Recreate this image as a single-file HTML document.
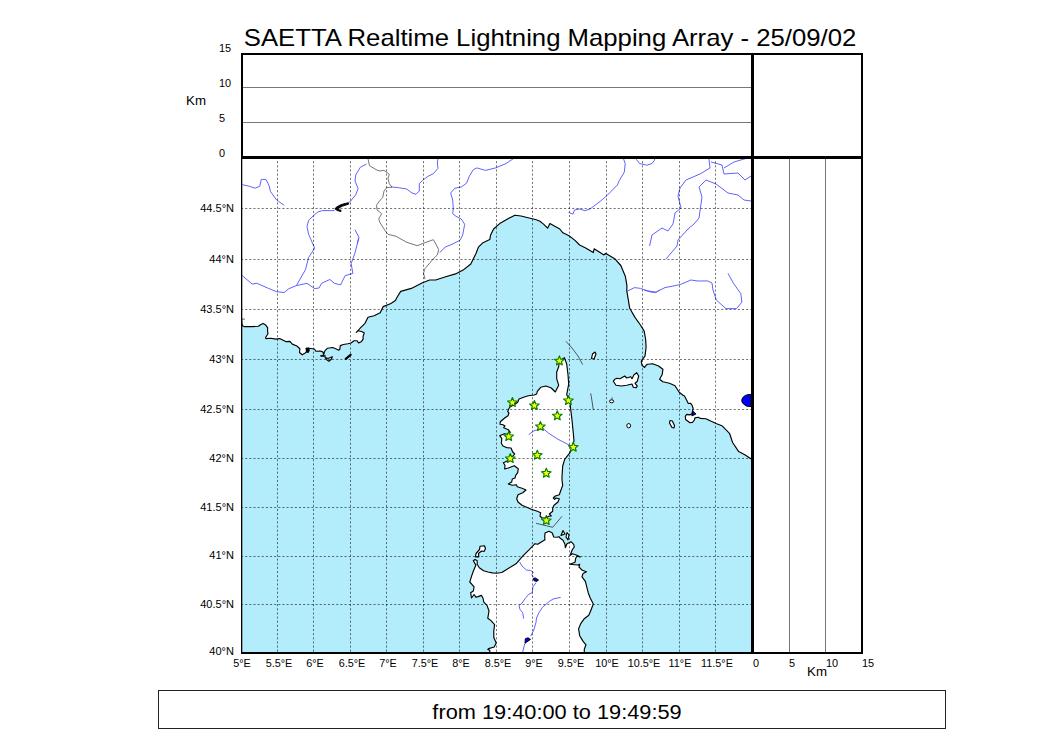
<!DOCTYPE html>
<html><head><meta charset="utf-8"><style>
html,body{margin:0;padding:0;background:#fff;}
body{width:1050px;height:750px;position:relative;overflow:hidden;font-family:"Liberation Sans",sans-serif;color:#000;}
.t{position:absolute;white-space:nowrap;line-height:1;}
</style></head><body>
<svg width="1050" height="750" viewBox="0 0 1050 750" style="position:absolute;left:0;top:0"><defs><clipPath id="mc"><rect x="241" y="157" width="511" height="495"/></clipPath></defs><g clip-path="url(#mc)"><polygon points="241.0,318.6 241.5,318.6 241.9,323.1 242.4,325.8 244.0,326.6 252.0,326.6 258.4,326.3 260.5,324.7 263.2,323.4 265.9,325.3 267.7,327.9 267.5,330.6 268.0,333.8 265.6,337.5 265.9,338.6 270.7,338.3 276.0,339.1 279.6,338.6 285.7,341.6 290.0,341.4 292.3,344.1 296.9,346.0 299.9,348.7 299.5,352.5 302.2,354.8 305.2,352.9 308.3,350.6 306.4,348.3 309.0,348.3 314.4,349.0 315.9,351.3 320.5,351.0 323.1,352.1 323.5,355.1 325.0,350.6 327.3,348.3 332.7,347.5 335.7,348.7 338.8,350.2 339.9,349.0 340.3,345.6 343.3,344.5 347.9,343.7 351.0,343.0 354.0,340.7 357.0,340.7 358.6,343.0 361.6,341.4 363.1,339.1 363.1,336.1 364.3,333.0 361.6,331.5 357.8,330.8 356.3,332.3 358.6,330.0 360.4,327.9 365.0,323.3 368.0,317.2 374.1,315.7 380.2,312.7 383.2,306.6 390.9,303.5 395.4,300.5 396.9,297.5 400.7,291.4 411.3,288.4 422.0,283.0 429.6,280.0 435.7,280.0 444.9,277.0 455.5,273.9 463.1,270.1 470.8,264.0 473.0,259.4 476.1,253.3 478.4,247.2 483.0,242.7 489.8,239.6 490.6,235.0 493.6,229.0 499.7,223.6 508.9,218.3 514.9,215.2 521.0,216.0 527.1,217.5 536.3,219.8 540.0,221.3 543.8,224.4 547.6,228.2 549.9,223.6 559.8,229.0 562.9,232.8 569.0,235.8 575.0,240.4 579.6,245.0 585.7,248.0 593.3,252.6 594.1,248.8 604.0,254.9 605.5,253.3 614.7,258.7 620.8,265.5 625.3,276.2 626.9,285.3 626.8,291.0 628.2,299.1 629.7,308.3 635.0,317.4 640.4,325.0 644.2,331.1 645.7,340.0 646.1,347.3 645.0,356.1 642.4,359.4 641.3,361.3 642.0,365.3 644.6,367.5 646.1,365.3 647.5,364.2 652.7,363.8 658.5,366.0 662.9,369.3 662.2,374.5 659.6,379.2 662.9,381.8 669.5,383.3 675.0,385.8 679.2,392.2 683.0,395.2 684.5,396.0 686.7,400.3 688.3,403.5 690.4,403.2 692.0,405.1 693.1,408.3 692.5,411.5 691.7,414.1 689.3,414.9 686.7,414.4 685.3,416.3 685.6,419.5 689.9,422.7 692.5,422.4 694.4,420.0 694.9,417.9 698.4,417.3 700.0,418.4 705.9,418.7 710.7,421.1 716.0,423.5 721.9,425.7 729.5,433.3 732.6,442.5 738.7,451.6 744.8,454.7 752.0,459.5 752.0,652.0 241.0,652.0" fill="#b3edfb" stroke="none"/><polyline points="241.5,318.6 241.9,323.1 242.4,325.8 244.0,326.6 252.0,326.6 258.4,326.3 260.5,324.7 263.2,323.4 265.9,325.3 267.7,327.9 267.5,330.6 268.0,333.8 265.6,337.5 265.9,338.6 270.7,338.3 276.0,339.1 279.6,338.6 285.7,341.6 290.0,341.4 292.3,344.1 296.9,346.0 299.9,348.7 299.5,352.5 302.2,354.8 305.2,352.9 308.3,350.6 306.4,348.3 309.0,348.3 314.4,349.0 315.9,351.3 320.5,351.0 323.1,352.1 323.5,355.1 325.0,350.6 327.3,348.3 332.7,347.5 335.7,348.7 338.8,350.2 339.9,349.0 340.3,345.6 343.3,344.5 347.9,343.7 351.0,343.0 354.0,340.7 357.0,340.7 358.6,343.0 361.6,341.4 363.1,339.1 363.1,336.1 364.3,333.0 361.6,331.5 357.8,330.8 356.3,332.3 358.6,330.0 360.4,327.9 365.0,323.3 368.0,317.2 374.1,315.7 380.2,312.7 383.2,306.6 390.9,303.5 395.4,300.5 396.9,297.5 400.7,291.4 411.3,288.4 422.0,283.0 429.6,280.0 435.7,280.0 444.9,277.0 455.5,273.9 463.1,270.1 470.8,264.0 473.0,259.4 476.1,253.3 478.4,247.2 483.0,242.7 489.8,239.6 490.6,235.0 493.6,229.0 499.7,223.6 508.9,218.3 514.9,215.2 521.0,216.0 527.1,217.5 536.3,219.8 540.0,221.3 543.8,224.4 547.6,228.2 549.9,223.6 559.8,229.0 562.9,232.8 569.0,235.8 575.0,240.4 579.6,245.0 585.7,248.0 593.3,252.6 594.1,248.8 604.0,254.9 605.5,253.3 614.7,258.7 620.8,265.5 625.3,276.2 626.9,285.3 626.8,291.0 628.2,299.1 629.7,308.3 635.0,317.4 640.4,325.0 644.2,331.1 645.7,340.0 646.1,347.3 645.0,356.1 642.4,359.4 641.3,361.3 642.0,365.3 644.6,367.5 646.1,365.3 647.5,364.2 652.7,363.8 658.5,366.0 662.9,369.3 662.2,374.5 659.6,379.2 662.9,381.8 669.5,383.3 675.0,385.8 679.2,392.2 683.0,395.2 684.5,396.0 686.7,400.3 688.3,403.5 690.4,403.2 692.0,405.1 693.1,408.3 692.5,411.5 691.7,414.1 689.3,414.9 686.7,414.4 685.3,416.3 685.6,419.5 689.9,422.7 692.5,422.4 694.4,420.0 694.9,417.9 698.4,417.3 700.0,418.4 705.9,418.7 710.7,421.1 716.0,423.5 721.9,425.7 729.5,433.3 732.6,442.5 738.7,451.6 744.8,454.7 752.0,459.5" fill="none" stroke="#000" stroke-width="1.15" stroke-linejoin="round"/><polygon points="489.8,652.6 489.8,650.2 487.8,649.4 488.6,648.6 494.2,647.0 496.2,643.0 493.8,637.4 493.8,631.0 494.6,624.6 491.0,620.6 487.8,618.2 489.0,611.0 487.0,605.4 483.8,602.2 483.0,598.2 481.4,595.4 478.2,596.6 475.9,597.1 474.1,594.5 471.5,598.0 470.7,592.8 473.3,591.1 474.1,586.8 469.8,582.0 471.5,576.4 473.3,571.2 475.9,565.1 473.3,560.8 475.0,559.5 477.2,560.8 477.2,564.2 479.3,567.7 483.6,570.7 488.0,572.0 492.3,572.9 496.6,573.3 501.8,572.5 506.6,569.4 516.0,563.8 523.4,555.4 529.0,549.9 535.0,543.7 537.7,544.3 541.7,541.7 545.0,539.7 544.7,537.0 545.0,533.0 549.0,531.3 552.3,533.0 553.7,537.0 557.0,537.3 559.0,536.7 560.3,538.3 563.0,540.3 565.0,544.3 565.3,547.7 567.0,543.7 571.0,541.7 573.7,544.3 574.3,547.0 572.3,549.7 571.0,553.0 570.3,555.3 572.3,553.7 576.3,555.0 580.3,557.0 577.0,556.3 575.7,558.3 575.0,562.3 571.0,563.7 569.7,564.3 577.7,565.0 579.7,564.3 579.0,567.0 582.3,570.3 586.5,571.7 583.1,573.4 582.0,576.8 585.4,581.3 586.5,585.9 588.2,592.7 589.9,597.2 593.3,604.0 591.1,609.7 588.8,615.3 584.3,618.7 580.9,623.3 578.6,628.9 579.7,635.7 583.1,641.4 586.0,644.8 584.3,649.3 584.3,652.7" fill="#fff" stroke="none"/><polyline points="489.8,652.6 489.8,650.2 487.8,649.4 488.6,648.6 494.2,647.0 496.2,643.0 493.8,637.4 493.8,631.0 494.6,624.6 491.0,620.6 487.8,618.2 489.0,611.0 487.0,605.4 483.8,602.2 483.0,598.2 481.4,595.4 478.2,596.6 475.9,597.1 474.1,594.5 471.5,598.0 470.7,592.8 473.3,591.1 474.1,586.8 469.8,582.0 471.5,576.4 473.3,571.2 475.9,565.1 473.3,560.8 475.0,559.5 477.2,560.8 477.2,564.2 479.3,567.7 483.6,570.7 488.0,572.0 492.3,572.9 496.6,573.3 501.8,572.5 506.6,569.4 516.0,563.8 523.4,555.4 529.0,549.9 535.0,543.7 537.7,544.3 541.7,541.7 545.0,539.7 544.7,537.0 545.0,533.0 549.0,531.3 552.3,533.0 553.7,537.0 557.0,537.3 559.0,536.7 560.3,538.3 563.0,540.3 565.0,544.3 565.3,547.7 567.0,543.7 571.0,541.7 573.7,544.3 574.3,547.0 572.3,549.7 571.0,553.0 570.3,555.3 572.3,553.7 576.3,555.0 580.3,557.0 577.0,556.3 575.7,558.3 575.0,562.3 571.0,563.7 569.7,564.3 577.7,565.0 579.7,564.3 579.0,567.0 582.3,570.3 586.5,571.7 583.1,573.4 582.0,576.8 585.4,581.3 586.5,585.9 588.2,592.7 589.9,597.2 593.3,604.0 591.1,609.7 588.8,615.3 584.3,618.7 580.9,623.3 578.6,628.9 579.7,635.7 583.1,641.4 586.0,644.8 584.3,649.3 584.3,652.7" fill="none" stroke="#000" stroke-width="1.15" stroke-linejoin="round"/><polygon points="564.4,357.6 566.7,364.0 568.0,374.7 568.7,384.0 566.7,394.7 570.0,401.3 570.7,409.3 572.0,420.0 573.3,433.3 574.0,440.7 570.0,452.7 564.7,459.3 562.7,466.0 562.0,476.7 562.0,480.0 562.7,485.3 560.7,490.7 559.3,494.7 555.3,496.0 553.3,498.0 554.7,499.3 556.0,498.0 559.3,498.7 558.0,502.0 554.0,505.3 552.7,508.0 552.7,511.3 549.3,514.0 551.3,516.0 548.7,516.3 546.3,517.8 542.0,518.0 540.0,516.0 540.7,512.7 537.3,511.3 531.3,509.3 526.7,507.3 522.0,505.3 518.0,502.0 516.7,498.7 518.0,494.7 522.7,492.7 526.0,490.0 522.0,488.3 517.3,486.7 516.3,484.7 512.3,485.3 508.3,484.0 511.7,482.0 512.3,479.0 515.0,478.0 515.7,475.3 517.7,472.7 518.3,468.7 514.3,465.7 508.3,468.0 504.7,469.0 505.0,465.3 503.3,462.7 506.7,461.3 510.3,458.0 513.0,456.0 514.7,454.0 512.7,452.0 511.0,448.0 507.0,447.7 503.0,446.0 501.3,443.3 501.7,440.0 501.7,438.3 499.7,435.7 504.3,433.7 508.3,434.3 510.3,432.3 508.3,429.7 503.7,427.7 505.0,426.0 503.0,424.7 500.0,424.3 500.3,421.7 505.0,417.7 508.0,415.7 509.0,413.0 507.7,411.7 508.7,409.0 510.3,406.7 515.0,404.3 517.7,402.3 519.0,399.0 524.3,397.0 528.3,395.7 534.3,395.0 536.7,394.0 537.3,391.3 540.7,387.3 546.0,386.0 551.3,388.0 555.3,392.0 558.7,385.3 556.7,378.7 556.7,372.0 558.7,366.7 559.3,361.3" fill="#fff" stroke="#000" stroke-width="1.15" stroke-linejoin="round"/><polygon points="613.3,381.3 614.7,379.3 617.0,378.3 620.0,378.7 624.7,376.0 626.7,378.0 630.7,376.7 632.0,378.7 634.0,374.7 636.7,372.7 638.7,376.0 637.3,381.3 635.1,383.3 637.3,386.2 636.0,387.8 633.3,387.3 632.0,384.0 626.7,385.3 621.3,386.0 616.0,385.3" fill="#fff" stroke="#000" stroke-width="1.15" stroke-linejoin="round"/><polygon points="480.0,546.3 484.5,545.8 485.5,548.7 484.0,551.5 481.5,551.0 478.5,553.5 478.8,556.8 475.5,556.8 476.0,553.5 479.5,549.5" fill="#fff" stroke="#000" stroke-width="1.15" stroke-linejoin="round"/><polygon points="563.0,530.5 565.0,534.0 561.0,535.5" fill="#fff" stroke="#000" stroke-width="1.15" stroke-linejoin="round"/><polygon points="567.0,532.5 569.0,535.0 568.0,540.0 566.0,537.0" fill="#fff" stroke="#000" stroke-width="1.15" stroke-linejoin="round"/><polygon points="670.0,420.5 672.3,421.0 674.5,425.5 674.0,428.0 672.0,427.5 669.5,423.0" fill="#fff" stroke="#000" stroke-width="1.15" stroke-linejoin="round"/><polygon points="325.0,357.5 328.0,358.5 330.5,357.5 332.3,356.7 331.5,359.0 329.0,361.2 327.0,360.0" fill="#fff" stroke="#000" stroke-width="1.15" stroke-linejoin="round"/><polygon points="591.5,358.5 592.5,354.0 595.0,352.0 596.0,354.0 594.0,359.0" fill="#fff" stroke="#000" stroke-width="1.15" stroke-linejoin="round"/><ellipse cx="611.6" cy="401.3" rx="2.1" ry="1.5" fill="#fff" stroke="#000" stroke-width="1"/><ellipse cx="628.7" cy="425.7" rx="1.9" ry="2.2" fill="#fff" stroke="#000" stroke-width="1"/><polyline points="242.3,184.7 249.1,186.2 255.2,188.2 259.8,186.2 261.3,179.4 265.9,179.4 269.0,185.5 270.5,191.6 276.6,200.0 284.2,205.3" fill="none" stroke="#4f50ff" stroke-width="0.9" stroke-linejoin="round"/><polyline points="366.5,164.1 360.4,167.2 355.8,174.8 355.0,180.9 358.1,188.5 355.8,194.6 349.7,202.2 347.5,203.3" fill="none" stroke="#4f50ff" stroke-width="0.9" stroke-linejoin="round"/><polyline points="334.5,210.6 322.3,210.6 317.7,212.1 313.1,216.0 308.6,220.5 307.0,226.6 308.6,234.2 310.1,237.6 314.7,248.3 308.6,257.4 305.5,269.6 296.4,285.6" fill="none" stroke="#4f50ff" stroke-width="0.9" stroke-linejoin="round"/><polyline points="296.4,285.6 288.8,288.7 284.2,292.5 276.6,291.7 267.4,287.9 256.8,283.3 252.2,284.1 242.3,275.7" fill="none" stroke="#4f50ff" stroke-width="0.9" stroke-linejoin="round"/><polyline points="296.4,285.6 307.0,283.3 314.7,288.7 319.2,287.9 321.5,283.3 329.9,279.5 334.5,283.3 340.6,284.9 345.1,275.7 352.8,273.4 351.2,263.5 355.0,252.9 358.9,237.6 357.3,243.4" fill="none" stroke="#4f50ff" stroke-width="0.9" stroke-linejoin="round"/><polyline points="355.0,229.7 358.9,237.3" fill="none" stroke="#4f50ff" stroke-width="0.9" stroke-linejoin="round"/><polyline points="438.5,157.0 438.0,159.0 437.3,163.0 438.0,168.3 433.3,173.7 428.0,176.3 422.7,180.3 419.3,183.7 419.3,191.0 416.0,194.3 412.0,193.0 406.7,189.0 398.7,187.7 392.0,187.0 390.9,187.8" fill="none" stroke="#4f50ff" stroke-width="0.9" stroke-linejoin="round"/><polyline points="515.0,157.0 513.7,158.4 506.0,163.6 495.7,167.9 485.4,170.4 476.9,167.9 473.3,169.7 469.3,176.3 466.7,183.0 461.3,187.0 454.7,188.3 450.7,193.0 452.7,200.3 453.3,208.3 452.7,213.7 456.0,216.3 461.3,219.0 464.7,224.3 462.7,235.0 460.0,240.3 452.0,244.3 445.3,247.0 440.0,252.3 440.3,251.8" fill="none" stroke="#4f50ff" stroke-width="0.9" stroke-linejoin="round"/><polyline points="623.0,157.0 623.4,158.4 625.2,163.6 624.3,172.1 619.2,180.7 617.4,185.0 607.2,195.3 600.3,201.3 590.0,209.0 584.9,210.7 579.7,209.0 574.6,209.9 572.9,214.1 568.6,212.4" fill="none" stroke="#4f50ff" stroke-width="0.9" stroke-linejoin="round"/><polyline points="709.0,157.0 709.0,159.0 710.0,168.0 700.0,174.0 686.0,180.0 680.0,188.0 678.0,196.0 681.0,208.0 675.0,213.0 673.0,224.0 668.0,231.0 662.0,228.0 652.0,235.0 649.6,246.0" fill="none" stroke="#4f50ff" stroke-width="0.9" stroke-linejoin="round"/><polyline points="711.0,162.0 722.0,165.0 724.0,174.0 738.0,173.0 745.0,180.0 751.0,176.0" fill="none" stroke="#4f50ff" stroke-width="0.9" stroke-linejoin="round"/><polyline points="724.0,168.0 734.0,162.0 744.0,159.0 751.0,157.5" fill="none" stroke="#4f50ff" stroke-width="0.9" stroke-linejoin="round"/><polyline points="706.0,180.0 699.0,187.0 702.0,197.0 699.0,218.0 694.0,224.0 688.0,229.0 678.0,240.0 677.0,246.0 666.0,259.0" fill="none" stroke="#4f50ff" stroke-width="0.9" stroke-linejoin="round"/><polyline points="706.0,180.0 716.0,184.0 728.0,193.0 738.0,195.0 744.0,200.0 751.0,201.0" fill="none" stroke="#4f50ff" stroke-width="0.9" stroke-linejoin="round"/><polyline points="636.0,157.0 636.3,159.3 639.5,163.5 646.9,165.2 652.0,163.5 654.4,160.3 655.0,157.0" fill="none" stroke="#4f50ff" stroke-width="0.9" stroke-linejoin="round"/><polyline points="626.9,291.4 634.5,287.6 640.6,288.4 646.7,290.7 655.8,292.2 665.0,287.6 680.2,284.6 690.9,280.0 698.0,281.0 707.7,280.9 712.0,283.0 713.0,290.0 716.3,300.0 725.9,308.6 736.5,308.6 741.9,302.2 740.8,293.7 733.3,283.0 728.0,273.4" fill="none" stroke="#4f50ff" stroke-width="0.9" stroke-linejoin="round"/><polyline points="644.2,290.0 651.8,292.3 656.4,292.3 659.4,290.0" fill="none" stroke="#4f50ff" stroke-width="0.9" stroke-linejoin="round"/><polyline points="528.7,434.7 534.0,430.7 543.3,428.7 548.7,433.3 558.0,439.3 573.0,447.0" fill="none" stroke="#4f50ff" stroke-width="0.9" stroke-linejoin="round"/><polyline points="519.7,562.0 522.0,566.0 526.4,570.0 530.7,570.5 533.3,572.1 531.7,574.8 533.9,577.5" fill="none" stroke="#4f50ff" stroke-width="0.9" stroke-linejoin="round"/><polyline points="536.0,582.8 532.8,587.1 532.3,592.4 528.5,594.5 525.3,598.3 522.1,603.1 519.0,605.5 520.0,609.5 522.7,612.7 523.7,618.6" fill="none" stroke="#4f50ff" stroke-width="0.9" stroke-linejoin="round"/><polyline points="560.7,597.4 553.0,599.0 549.9,601.0 546.1,604.2 542.4,607.4 539.2,612.2 536.5,618.0 536.0,622.3 533.9,629.8 530.7,636.2" fill="none" stroke="#4f50ff" stroke-width="0.9" stroke-linejoin="round"/><polyline points="524.8,643.6 523.2,650.0 522.5,653.0" fill="none" stroke="#4f50ff" stroke-width="0.9" stroke-linejoin="round"/><polyline points="368.0,157.0 368.0,158.8 369.5,165.7 377.1,170.2 380.0,171.0 384.0,170.3 389.3,174.3 388.0,178.3 389.3,183.7 392.0,187.0 386.7,187.7 384.0,191.0 382.7,197.7 380.0,200.3 376.4,205.3 377.1,209.9 381.7,213.7 378.7,219.0 380.2,223.0 385.3,231.0 388.0,234.3 396.0,236.3 406.7,242.3 417.3,245.7 424.0,243.0 433.3,239.7 435.3,243.0 438.7,249.7 437.3,255.0 434.2,257.9 425.0,268.6 423.5,273.1 425.0,279.2" fill="none" stroke="#666666" stroke-width="0.9" stroke-linejoin="round"/><polyline points="612.0,397.3 612.0,399.8" fill="none" stroke="#333" stroke-width="0.8"/><polyline points="241.5,319.1 244.8,319.1" fill="none" stroke="#333" stroke-width="0.8"/><polyline points="566.0,341.3 572.0,348.0 578.0,356.0 582.7,364.7" fill="none" stroke="#333" stroke-width="0.8"/><polyline points="590.7,393.3 592.0,401.0 593.3,410.0" fill="none" stroke="#333" stroke-width="0.8"/><polyline points="536.0,523.3 552.7,527.3 562.0,516.3" fill="none" stroke="#333" stroke-width="0.8"/><polygon points="305.5,348 309,347.6 309.8,350.5 308.5,353 306,352.5" fill="#000"/><polygon points="320.3,355.1 325.6,355.2 325.8,356.8 320.5,356.8" fill="#000"/><line x1="345.8" y1="358.8" x2="350.6" y2="354.8" stroke="#000" stroke-width="2.2" stroke-linecap="round"/><path d="M341,211.6 Q336.5,210.8 334.8,208.8 Q338,204.6 348.2,202.8 L348.6,204.2 Q341,206 337.6,209 Q339,210 341,210.2 Z" fill="#000010" stroke="#000" stroke-width="0.9" stroke-linejoin="round"/><polygon points="693.1,411.3 695.9,414.1 691.8,415.9" fill="#0000ff" stroke="#000" stroke-width="1"/><polygon points="533.3,578.5 535.5,578 538.5,580.1 536.5,581.5 533.9,580.5" fill="#0000ff" stroke="#000" stroke-width="1" stroke-linejoin="round"/><polygon points="525.3,638.8 528,637.8 530.5,639.4 526.4,642.3 525,643.3" fill="#0000ff" stroke="#000" stroke-width="1" stroke-linejoin="round"/><path d="M751,394.5 Q744,394.2 742,399 Q741,402 743.5,404 Q746,407 751,406.5 Z" fill="#0000ff" stroke="#000" stroke-width="1"/><line x1="277.5" y1="157" x2="277.5" y2="652" stroke="#000" stroke-opacity="0.55" stroke-width="1" stroke-dasharray="2.1 2.04"/><line x1="313.5" y1="157" x2="313.5" y2="652" stroke="#000" stroke-opacity="0.55" stroke-width="1" stroke-dasharray="2.1 2.04"/><line x1="350.5" y1="157" x2="350.5" y2="652" stroke="#000" stroke-opacity="0.55" stroke-width="1" stroke-dasharray="2.1 2.04"/><line x1="386.5" y1="157" x2="386.5" y2="652" stroke="#000" stroke-opacity="0.55" stroke-width="1" stroke-dasharray="2.1 2.04"/><line x1="423.5" y1="157" x2="423.5" y2="652" stroke="#000" stroke-opacity="0.55" stroke-width="1" stroke-dasharray="2.1 2.04"/><line x1="459.5" y1="157" x2="459.5" y2="652" stroke="#000" stroke-opacity="0.55" stroke-width="1" stroke-dasharray="2.1 2.04"/><line x1="496.5" y1="157" x2="496.5" y2="652" stroke="#000" stroke-opacity="0.55" stroke-width="1" stroke-dasharray="2.1 2.04"/><line x1="532.5" y1="157" x2="532.5" y2="652" stroke="#000" stroke-opacity="0.55" stroke-width="1" stroke-dasharray="2.1 2.04"/><line x1="569.5" y1="157" x2="569.5" y2="652" stroke="#000" stroke-opacity="0.55" stroke-width="1" stroke-dasharray="2.1 2.04"/><line x1="606.5" y1="157" x2="606.5" y2="652" stroke="#000" stroke-opacity="0.55" stroke-width="1" stroke-dasharray="2.1 2.04"/><line x1="642.5" y1="157" x2="642.5" y2="652" stroke="#000" stroke-opacity="0.55" stroke-width="1" stroke-dasharray="2.1 2.04"/><line x1="679.5" y1="157" x2="679.5" y2="652" stroke="#000" stroke-opacity="0.55" stroke-width="1" stroke-dasharray="2.1 2.04"/><line x1="715.5" y1="157" x2="715.5" y2="652" stroke="#000" stroke-opacity="0.55" stroke-width="1" stroke-dasharray="2.1 2.04"/><line x1="241" y1="604.5" x2="752" y2="604.5" stroke="#000" stroke-opacity="0.55" stroke-width="1" stroke-dasharray="2.1 2.04"/><line x1="241" y1="556.5" x2="752" y2="556.5" stroke="#000" stroke-opacity="0.55" stroke-width="1" stroke-dasharray="2.1 2.04"/><line x1="241" y1="507.5" x2="752" y2="507.5" stroke="#000" stroke-opacity="0.55" stroke-width="1" stroke-dasharray="2.1 2.04"/><line x1="241" y1="458.5" x2="752" y2="458.5" stroke="#000" stroke-opacity="0.55" stroke-width="1" stroke-dasharray="2.1 2.04"/><line x1="241" y1="409.5" x2="752" y2="409.5" stroke="#000" stroke-opacity="0.55" stroke-width="1" stroke-dasharray="2.1 2.04"/><line x1="241" y1="359.5" x2="752" y2="359.5" stroke="#000" stroke-opacity="0.55" stroke-width="1" stroke-dasharray="2.1 2.04"/><line x1="241" y1="309.5" x2="752" y2="309.5" stroke="#000" stroke-opacity="0.55" stroke-width="1" stroke-dasharray="2.1 2.04"/><line x1="241" y1="259.5" x2="752" y2="259.5" stroke="#000" stroke-opacity="0.55" stroke-width="1" stroke-dasharray="2.1 2.04"/><line x1="241" y1="208.5" x2="752" y2="208.5" stroke="#000" stroke-opacity="0.55" stroke-width="1" stroke-dasharray="2.1 2.04"/><polygon points="559.4,355.9 560.7,359.1 564.2,359.4 561.5,361.6 562.3,364.9 559.4,363.1 556.5,364.9 557.3,361.6 554.6,359.4 558.1,359.1" fill="#ffff00" stroke="#008000" stroke-width="1.15" stroke-linejoin="round"/><polygon points="512.4,397.5 513.7,400.7 517.2,401.0 514.5,403.2 515.3,406.5 512.4,404.8 509.5,406.5 510.3,403.2 507.6,401.0 511.1,400.7" fill="#ffff00" stroke="#008000" stroke-width="1.15" stroke-linejoin="round"/><polygon points="534.4,400.5 535.7,403.7 539.2,404.0 536.5,406.2 537.3,409.5 534.4,407.8 531.5,409.5 532.3,406.2 529.6,404.0 533.1,403.7" fill="#ffff00" stroke="#008000" stroke-width="1.15" stroke-linejoin="round"/><polygon points="568.4,395.5 569.7,398.7 573.2,399.0 570.5,401.2 571.3,404.5 568.4,402.8 565.5,404.5 566.3,401.2 563.6,399.0 567.1,398.7" fill="#ffff00" stroke="#008000" stroke-width="1.15" stroke-linejoin="round"/><polygon points="557.3,410.8 558.6,414.0 562.1,414.3 559.4,416.5 560.2,419.8 557.3,418.1 554.4,419.8 555.2,416.5 552.5,414.3 556.0,414.0" fill="#ffff00" stroke="#008000" stroke-width="1.15" stroke-linejoin="round"/><polygon points="540.4,421.5 541.7,424.7 545.2,425.0 542.5,427.2 543.3,430.5 540.4,428.8 537.5,430.5 538.3,427.2 535.6,425.0 539.1,424.7" fill="#ffff00" stroke="#008000" stroke-width="1.15" stroke-linejoin="round"/><polygon points="508.7,431.5 510.0,434.7 513.5,435.0 510.8,437.2 511.6,440.5 508.7,438.8 505.8,440.5 506.6,437.2 503.9,435.0 507.4,434.7" fill="#ffff00" stroke="#008000" stroke-width="1.15" stroke-linejoin="round"/><polygon points="573.3,442.2 574.6,445.4 578.1,445.7 575.4,447.9 576.2,451.2 573.3,449.4 570.4,451.2 571.2,447.9 568.5,445.7 572.0,445.4" fill="#ffff00" stroke="#008000" stroke-width="1.15" stroke-linejoin="round"/><polygon points="537.3,450.2 538.6,453.4 542.1,453.7 539.4,455.9 540.2,459.2 537.3,457.4 534.4,459.2 535.2,455.9 532.5,453.7 536.0,453.4" fill="#ffff00" stroke="#008000" stroke-width="1.15" stroke-linejoin="round"/><polygon points="510.3,453.5 511.6,456.7 515.1,457.0 512.4,459.2 513.2,462.5 510.3,460.8 507.4,462.5 508.2,459.2 505.5,457.0 509.0,456.7" fill="#ffff00" stroke="#008000" stroke-width="1.15" stroke-linejoin="round"/><polygon points="546.3,468.2 547.6,471.4 551.1,471.7 548.4,473.9 549.2,477.2 546.3,475.4 543.4,477.2 544.2,473.9 541.5,471.7 545.0,471.4" fill="#ffff00" stroke="#008000" stroke-width="1.15" stroke-linejoin="round"/><polygon points="546.3,515.5 547.6,518.7 551.1,519.0 548.4,521.2 549.2,524.5 546.3,522.8 543.4,524.5 544.2,521.2 541.5,519.0 545.0,518.7" fill="#ffff00" stroke="#008000" stroke-width="1.15" stroke-linejoin="round"/></g><rect x="241" y="157" width="1.3" height="497" fill="#000"/><rect x="241" y="652" width="511" height="2" fill="#000"/><rect x="242" y="54" width="620" height="103.5" fill="none" stroke="#000" stroke-width="2"/><line x1="242" y1="157.5" x2="862" y2="157.5" stroke="#000" stroke-width="3"/><line x1="752.5" y1="54" x2="752.5" y2="653" stroke="#000" stroke-width="3"/><rect x="752" y="157" width="110" height="496" fill="none" stroke="#000" stroke-width="2"/><line x1="243" y1="87.5" x2="751" y2="87.5" stroke="#777" stroke-width="1"/><line x1="243" y1="122.5" x2="751" y2="122.5" stroke="#777" stroke-width="1"/><line x1="789.5" y1="159" x2="789.5" y2="652" stroke="#777" stroke-width="1"/><line x1="825.5" y1="159" x2="825.5" y2="652" stroke="#777" stroke-width="1"/><rect x="158.5" y="690.5" width="787" height="38" fill="none" stroke="#222" stroke-width="1"/></svg>
<div class="t" style="left:234.4px;top:646.3px;font-size:10.5px;transform:translateX(-100%) scaleX(1.05);transform-origin:100% 0">40&#176;N</div><div class="t" style="left:234.4px;top:598.5px;font-size:10.5px;transform:translateX(-100%) scaleX(1.05);transform-origin:100% 0">40.5&#176;N</div><div class="t" style="left:234.4px;top:550.4px;font-size:10.5px;transform:translateX(-100%) scaleX(1.05);transform-origin:100% 0">41&#176;N</div><div class="t" style="left:234.4px;top:501.9px;font-size:10.5px;transform:translateX(-100%) scaleX(1.05);transform-origin:100% 0">41.5&#176;N</div><div class="t" style="left:234.4px;top:453.0px;font-size:10.5px;transform:translateX(-100%) scaleX(1.05);transform-origin:100% 0">42&#176;N</div><div class="t" style="left:234.4px;top:403.8px;font-size:10.5px;transform:translateX(-100%) scaleX(1.05);transform-origin:100% 0">42.5&#176;N</div><div class="t" style="left:234.4px;top:354.1px;font-size:10.5px;transform:translateX(-100%) scaleX(1.05);transform-origin:100% 0">43&#176;N</div><div class="t" style="left:234.4px;top:304.0px;font-size:10.5px;transform:translateX(-100%) scaleX(1.05);transform-origin:100% 0">43.5&#176;N</div><div class="t" style="left:234.4px;top:253.6px;font-size:10.5px;transform:translateX(-100%) scaleX(1.05);transform-origin:100% 0">44&#176;N</div><div class="t" style="left:234.4px;top:202.7px;font-size:10.5px;transform:translateX(-100%) scaleX(1.05);transform-origin:100% 0">44.5&#176;N</div><div class="t" style="left:242.0px;top:658.3px;font-size:10.5px;transform:translateX(-50%) scaleX(1.03);transform-origin:50% 0">5&#176;E</div><div class="t" style="left:278.5px;top:658.3px;font-size:10.5px;transform:translateX(-50%) scaleX(1.03);transform-origin:50% 0">5.5&#176;E</div><div class="t" style="left:315.0px;top:658.3px;font-size:10.5px;transform:translateX(-50%) scaleX(1.03);transform-origin:50% 0">6&#176;E</div><div class="t" style="left:351.5px;top:658.3px;font-size:10.5px;transform:translateX(-50%) scaleX(1.03);transform-origin:50% 0">6.5&#176;E</div><div class="t" style="left:388.0px;top:658.3px;font-size:10.5px;transform:translateX(-50%) scaleX(1.03);transform-origin:50% 0">7&#176;E</div><div class="t" style="left:424.5px;top:658.3px;font-size:10.5px;transform:translateX(-50%) scaleX(1.03);transform-origin:50% 0">7.5&#176;E</div><div class="t" style="left:461.0px;top:658.3px;font-size:10.5px;transform:translateX(-50%) scaleX(1.03);transform-origin:50% 0">8&#176;E</div><div class="t" style="left:497.5px;top:658.3px;font-size:10.5px;transform:translateX(-50%) scaleX(1.03);transform-origin:50% 0">8.5&#176;E</div><div class="t" style="left:534.0px;top:658.3px;font-size:10.5px;transform:translateX(-50%) scaleX(1.03);transform-origin:50% 0">9&#176;E</div><div class="t" style="left:570.5px;top:658.3px;font-size:10.5px;transform:translateX(-50%) scaleX(1.03);transform-origin:50% 0">9.5&#176;E</div><div class="t" style="left:607.0px;top:658.3px;font-size:10.5px;transform:translateX(-50%) scaleX(1.03);transform-origin:50% 0">10&#176;E</div><div class="t" style="left:643.5px;top:658.3px;font-size:10.5px;transform:translateX(-50%) scaleX(1.03);transform-origin:50% 0">10.5&#176;E</div><div class="t" style="left:680.0px;top:658.3px;font-size:10.5px;transform:translateX(-50%) scaleX(1.03);transform-origin:50% 0">11&#176;E</div><div class="t" style="left:716.5px;top:658.3px;font-size:10.5px;transform:translateX(-50%) scaleX(1.03);transform-origin:50% 0">11.5&#176;E</div><div class="t" style="left:219.3px;top:43.2px;font-size:10.5px;transform:translateX(0) scaleX(1.04);transform-origin:0 0">15</div><div class="t" style="left:219.3px;top:78.3px;font-size:10.5px;transform:translateX(0) scaleX(1.04);transform-origin:0 0">10</div><div class="t" style="left:219.3px;top:113.1px;font-size:10.5px;transform:translateX(0) scaleX(1.04);transform-origin:0 0">5</div><div class="t" style="left:219.3px;top:148.2px;font-size:10.5px;transform:translateX(0) scaleX(1.04);transform-origin:0 0">0</div><div class="t" style="left:756px;top:658.3px;font-size:10.5px;transform:translateX(-50%) scaleX(1.04);transform-origin:50% 0">0</div><div class="t" style="left:792px;top:658.3px;font-size:10.5px;transform:translateX(-50%) scaleX(1.04);transform-origin:50% 0">5</div><div class="t" style="left:831.5px;top:658.3px;font-size:10.5px;transform:translateX(-50%) scaleX(1.04);transform-origin:50% 0">10</div><div class="t" style="left:868px;top:658.3px;font-size:10.5px;transform:translateX(-50%) scaleX(1.04);transform-origin:50% 0">15</div><div class="t" style="left:195.5px;top:94.8px;font-size:12.3px;transform:translateX(-50%) scaleX(1.08);transform-origin:50% 0">Km</div><div class="t" style="left:816.5px;top:665.5px;font-size:12.3px;transform:translateX(-50%) scaleX(1.08);transform-origin:50% 0">Km</div><div class="t" style="left:550.4px;top:25.7px;font-size:24px;transform:translateX(-50%) scaleX(1.071);transform-origin:50% 0">SAETTA Realtime Lightning Mapping Array - 25/09/02</div><div class="t" style="left:556.9px;top:703.4px;font-size:19.6px;transform:translateX(-50%) scaleX(1.111);transform-origin:50% 0">from 19:40:00 to 19:49:59</div>
</body></html>
